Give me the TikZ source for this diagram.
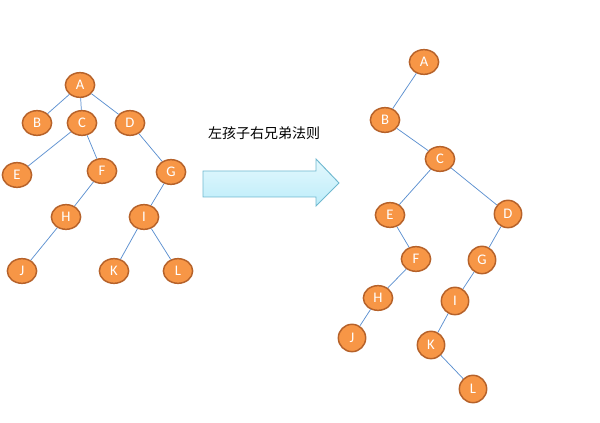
\documentclass[tikz,border=0pt]{standalone}
\usepackage{fontspec}
\setsansfont{Carlito}
\newfontfamily\cjk{Noto Sans CJK SC}
\usepackage{xcolor}
\usetikzlibrary{shapes.geometric}

\definecolor{nodeFill}{HTML}{F79646}
\definecolor{nodeBorder}{HTML}{B6622A}
\definecolor{edgeBlue}{HTML}{5B8FCF}
\definecolor{arrowBorder}{HTML}{6FB8CF}
\definecolor{arrowTop}{HTML}{E4F8FD}
\definecolor{arrowBottom}{HTML}{BDEDFA}

\begin{document}
\begin{tikzpicture}[x=0.75pt,y=-0.75pt,
    tnode/.style={ellipse,draw=nodeBorder,line width=1.1pt,fill=nodeFill,
      text=white,font=\sffamily\fontsize{11}{13}\selectfont,
      minimum width=22pt,minimum height=18.5pt,inner sep=0pt},
    rnode/.style={tnode,minimum width=20.5pt,minimum height=20.5pt},
    edge/.style={draw=edgeBlue,line width=0.55pt}]
  \useasboundingbox (0,0) rectangle (600,423);

  % left tree
  \node[tnode] (lA) at (80,85) {A};
  \node[tnode] (lB) at (37,123) {B};
  \node[tnode] (lC) at (82,123) {C};
  \node[tnode] (lD) at (130,123) {D};
  \node[tnode] (lE) at (17,175) {E};
  \node[tnode] (lF) at (102,171) {F};
  \node[tnode] (lG) at (171,172) {G};
  \node[tnode] (lH) at (66,217) {H};
  \node[tnode] (lI) at (144,217) {I};
  \node[tnode] (lJ) at (22,271) {J};
  \node[tnode] (lK) at (114,271) {K};
  \node[tnode] (lL) at (178,271) {L};
  \foreach \a/\b in {A/B,A/C,A/D,C/E,C/F,D/G,F/H,G/I,H/J,I/K,I/L}
    \draw[edge] (l\a) -- (l\b);

  % arrow with label
  \node[font=\cjk\fontsize{10.5}{12}\selectfont] (rule) at (264,133) {左孩子右兄弟法则};
  \coordinate (tip) at (339,183);
  \shade[top color=arrowTop,bottom color=arrowBottom,draw=arrowBorder,line width=0.7pt]
    (203,171) -- (316,171) -- (316,159) -- (tip) -- (316,206) -- (316,197)
    -- (203,197) -- cycle;

  % right tree
  \node[tnode] (rA) at (424,62) {A};
  \node[tnode] (rB) at (385,120) {B};
  \node[tnode] (rC) at (440,159) {C};
  \node[tnode] (rE) at (390,215) {E};
  \node[rnode] (rD) at (508,214) {D};
  \node[tnode] (rF) at (416,259) {F};
  \node[rnode] (rG) at (482,260) {G};
  \node[tnode] (rH) at (378,298) {H};
  \node[rnode] (rI) at (455,301) {I};
  \node[rnode] (rJ) at (352,338) {J};
  \node[rnode] (rK) at (431,345) {K};
  \node[rnode] (rL) at (473,389) {L};
  \foreach \a/\b in {A/B,B/C,C/E,C/D,E/F,F/H,H/J,D/G,G/I,I/K,K/L}
    \draw[edge] (r\a) -- (r\b);
\end{tikzpicture}
\end{document}
